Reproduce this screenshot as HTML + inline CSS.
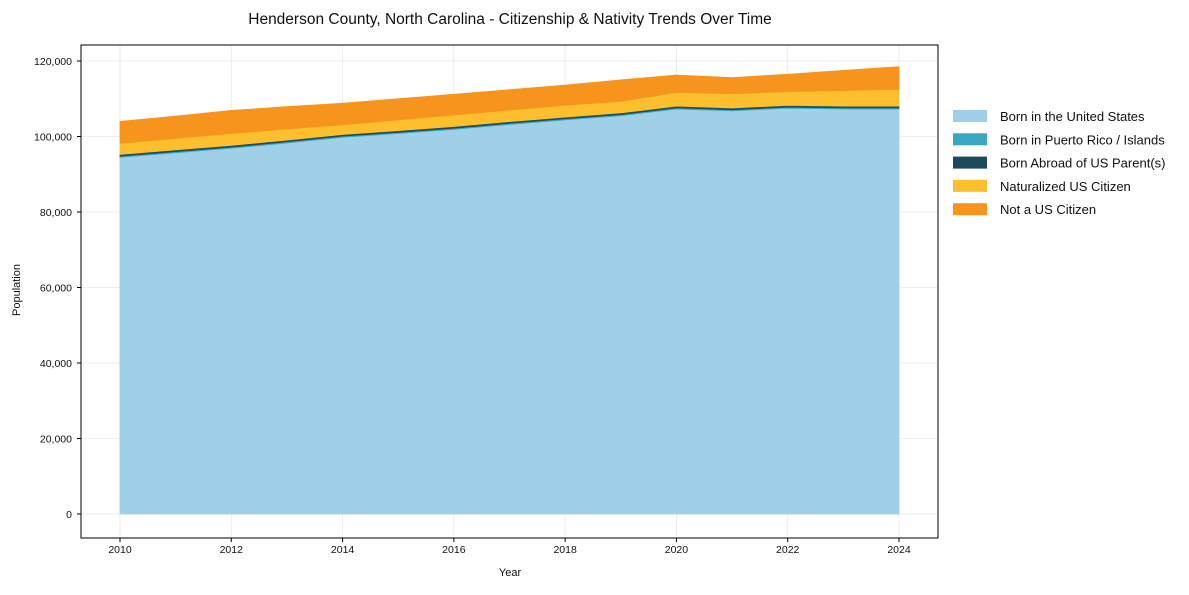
<!DOCTYPE html>
<html><head><meta charset="utf-8"><style>
body{margin:0;background:#fff;font-family:"Liberation Sans",Arial,sans-serif;}
svg text{font-family:"Liberation Sans",Arial,sans-serif;}
</style></head><body>
<svg id="chart" width="1189" height="590" viewBox="0 0 1189 590" xmlns="http://www.w3.org/2000/svg">
<rect width="1189" height="590" fill="#fff"/>
<text x="510" y="24" text-anchor="middle" font-size="15.5" fill="#111">Henderson County, North Carolina - Citizenship &amp; Nativity Trends Over Time</text>
<g id="grid"></g>
<g id="areas"></g>
<rect x="81" y="45" width="857" height="493" fill="none" stroke="#000" stroke-width="1"/>
<g id="axes"></g>
<text x="510" y="576" text-anchor="middle" font-size="11" fill="#111">Year</text>
<text transform="translate(20,290) rotate(-90)" text-anchor="middle" font-size="11" fill="#111">Population</text>
<g id="legend"></g>
</svg>
<script>
const years=[2010,2011,2012,2013,2014,2015,2016,2017,2018,2019,2020,2021,2022,2023,2024];
const bornUS=[94500,95700,96900,98300,99800,100800,101900,103200,104400,105500,107300,106800,107500,107300,107300];
const bornPR=[300,300,300,300,300,300,300,300,300,300,300,300,300,300,300];
const bornAbroad=[450,450,450,450,450,450,450,450,450,450,450,450,450,450,450];
const naturalized=[2950,3050,3150,2950,2550,2850,3050,3050,3150,3050,3650,3750,3650,4150,4450];
const nonCitizen=[5800,5900,6100,5900,5700,5600,5500,5400,5300,5700,4600,4300,4600,5300,6000];
const yTicks=[0,20000,40000,60000,80000,100000,120000];
const xTicks=[2010,2012,2014,2016,2018,2020,2022,2024];
const seriesNames=["Born in the United States","Born in Puerto Rico / Islands","Born Abroad of US Parent(s)","Naturalized US Citizen","Not a US Citizen"];
const seriesColors=["#9fd0e7","#3aa6c2","#1e4a5c","#fdbf2d","#f7941d"];
const series=[bornUS,bornPR,bornAbroad,naturalized,nonCitizen];
const NS="http://www.w3.org/2000/svg";
const X=y=>120+(y-2010)*(779/14);
const Y=v=>514-v*(453/120000);
function mk(tag,attrs,parent){const e=document.createElementNS(NS,tag);for(const k in attrs)e.setAttribute(k,attrs[k]);parent.appendChild(e);return e;}
const grid=document.getElementById('grid'),axes=document.getElementById('axes'),areas=document.getElementById('areas'),legend=document.getElementById('legend');
yTicks.forEach(t=>{
  const l=mk('line',{x1:81,x2:938,y1:Y(t),y2:Y(t),stroke:'#e8e8e8','stroke-width':0.8},grid);
  
  
  mk('line',{x1:77,x2:81,y1:Y(t),y2:Y(t),stroke:'#000'},axes);
  const tx=mk('text',{x:72,y:Y(t)+4,'text-anchor':'end','font-size':10.5,fill:'#111'},axes);
  tx.textContent=t.toLocaleString('en-US');
  
  
});
xTicks.forEach(t=>{
  const l=mk('line',{x1:X(t),x2:X(t),y1:45,y2:538,stroke:'#e8e8e8','stroke-width':0.8},grid);
  
  
  mk('line',{x1:X(t),x2:X(t),y1:538,y2:542,stroke:'#000'},axes);
  const tx=mk('text',{x:X(t),y:553,'text-anchor':'middle','font-size':10.5,fill:'#111'},axes);
  tx.textContent=t;
  
  
});
let base=years.map(()=>0);
series.forEach((s,i)=>{
  const top=base.map((b,j)=>b+s[j]);
  let d='M'+years.map((y,j)=>X(y)+','+Y(top[j])).join(' L');
  d+=' L'+years.slice().reverse().map((y,j)=>X(y)+','+Y(base[years.length-1-j])).join(' L')+' Z';
  const p=mk('path',{d:d,fill:seriesColors[i],stroke:seriesColors[i],'stroke-width':0.8},areas);
  
  
  base=top;
});
seriesNames.forEach((n,i)=>{
  const g=mk('g',{},legend);
  
  
  const yy=116+i*23.3;
  mk('rect',{x:953,y:yy-6,width:34,height:12,fill:seriesColors[i]},g);
  const t=mk('text',{x:1000,y:yy+5,'font-size':13,fill:'#111'},g);
  t.textContent=n;
});
</script>
</body></html>
